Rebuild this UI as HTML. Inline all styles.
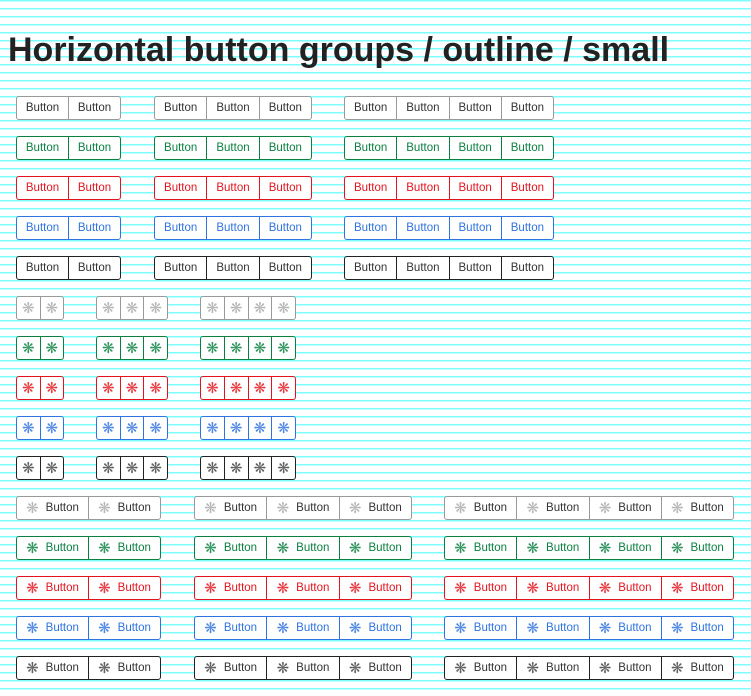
<!DOCTYPE html>
<html><head><meta charset="utf-8"><style>
body{margin:0;width:751px;height:696px;overflow:hidden;background:#fff repeating-linear-gradient(to bottom,#7ffcfc 0,#7ffcfc 1.5px,#fff 1.5px,#fff 8px);font-family:"Liberation Sans",sans-serif;position:relative}
h1{position:absolute;left:8px;top:31px;margin:0;font-size:34px;font-weight:bold;color:#222;white-space:nowrap}
.g{position:absolute;height:24px;box-sizing:border-box;border:1px solid;border-radius:3px;background:#fff;display:flex;overflow:hidden}
.g span{flex:1;display:flex;align-items:center;justify-content:center;font-size:11.5px;border-left:1px solid;white-space:nowrap}
.g span:first-child{border-left:none}
.g i{font-style:normal;font-size:15px;margin-right:7px;opacity:.85}
.g.io i{margin:0}
.gr{border-color:#999;color:#333}.gr span{border-color:#999}.gr i{color:#aaa}
.gn{border-color:#0b8040;color:#0b8040}.gn span{border-color:#0b8040}
.rd{border-color:#e4141e;color:#e4141e}.rd span{border-color:#e4141e}
.bl{border-color:#2f73e0;color:#2f73e0}.bl span{border-color:#2f73e0}
.bk{border-color:#222;color:#333}.bk span{border-color:#222}.bk i{color:#444}
</style></head><body>
<h1>Horizontal button groups / outline / small</h1>

<div class="g gr" style="left:16px;top:96px;width:105px"><span>Button</span><span>Button</span></div>
<div class="g gr" style="left:154px;top:96px;width:158px"><span>Button</span><span>Button</span><span>Button</span></div>
<div class="g gr" style="left:344px;top:96px;width:210px"><span>Button</span><span>Button</span><span>Button</span><span>Button</span></div>
<div class="g gn" style="left:16px;top:136px;width:105px"><span>Button</span><span>Button</span></div>
<div class="g gn" style="left:154px;top:136px;width:158px"><span>Button</span><span>Button</span><span>Button</span></div>
<div class="g gn" style="left:344px;top:136px;width:210px"><span>Button</span><span>Button</span><span>Button</span><span>Button</span></div>
<div class="g rd" style="left:16px;top:176px;width:105px"><span>Button</span><span>Button</span></div>
<div class="g rd" style="left:154px;top:176px;width:158px"><span>Button</span><span>Button</span><span>Button</span></div>
<div class="g rd" style="left:344px;top:176px;width:210px"><span>Button</span><span>Button</span><span>Button</span><span>Button</span></div>
<div class="g bl" style="left:16px;top:216px;width:105px"><span>Button</span><span>Button</span></div>
<div class="g bl" style="left:154px;top:216px;width:158px"><span>Button</span><span>Button</span><span>Button</span></div>
<div class="g bl" style="left:344px;top:216px;width:210px"><span>Button</span><span>Button</span><span>Button</span><span>Button</span></div>
<div class="g bk" style="left:16px;top:256px;width:105px"><span>Button</span><span>Button</span></div>
<div class="g bk" style="left:154px;top:256px;width:158px"><span>Button</span><span>Button</span><span>Button</span></div>
<div class="g bk" style="left:344px;top:256px;width:210px"><span>Button</span><span>Button</span><span>Button</span><span>Button</span></div>

<div class="g io gr" style="left:16px;top:296px;width:48px"><span><i>❋</i></span><span><i>❋</i></span></div>
<div class="g io gr" style="left:96px;top:296px;width:72px"><span><i>❋</i></span><span><i>❋</i></span><span><i>❋</i></span></div>
<div class="g io gr" style="left:200px;top:296px;width:96px"><span><i>❋</i></span><span><i>❋</i></span><span><i>❋</i></span><span><i>❋</i></span></div>
<div class="g io gn" style="left:16px;top:336px;width:48px"><span><i>❋</i></span><span><i>❋</i></span></div>
<div class="g io gn" style="left:96px;top:336px;width:72px"><span><i>❋</i></span><span><i>❋</i></span><span><i>❋</i></span></div>
<div class="g io gn" style="left:200px;top:336px;width:96px"><span><i>❋</i></span><span><i>❋</i></span><span><i>❋</i></span><span><i>❋</i></span></div>
<div class="g io rd" style="left:16px;top:376px;width:48px"><span><i>❋</i></span><span><i>❋</i></span></div>
<div class="g io rd" style="left:96px;top:376px;width:72px"><span><i>❋</i></span><span><i>❋</i></span><span><i>❋</i></span></div>
<div class="g io rd" style="left:200px;top:376px;width:96px"><span><i>❋</i></span><span><i>❋</i></span><span><i>❋</i></span><span><i>❋</i></span></div>
<div class="g io bl" style="left:16px;top:416px;width:48px"><span><i>❋</i></span><span><i>❋</i></span></div>
<div class="g io bl" style="left:96px;top:416px;width:72px"><span><i>❋</i></span><span><i>❋</i></span><span><i>❋</i></span></div>
<div class="g io bl" style="left:200px;top:416px;width:96px"><span><i>❋</i></span><span><i>❋</i></span><span><i>❋</i></span><span><i>❋</i></span></div>
<div class="g io bk" style="left:16px;top:456px;width:48px"><span><i>❋</i></span><span><i>❋</i></span></div>
<div class="g io bk" style="left:96px;top:456px;width:72px"><span><i>❋</i></span><span><i>❋</i></span><span><i>❋</i></span></div>
<div class="g io bk" style="left:200px;top:456px;width:96px"><span><i>❋</i></span><span><i>❋</i></span><span><i>❋</i></span><span><i>❋</i></span></div>

<div class="g gr" style="left:16px;top:496px;width:145px"><span><i>❋</i>Button</span><span><i>❋</i>Button</span></div>
<div class="g gr" style="left:194px;top:496px;width:218px"><span><i>❋</i>Button</span><span><i>❋</i>Button</span><span><i>❋</i>Button</span></div>
<div class="g gr" style="left:444px;top:496px;width:290px"><span><i>❋</i>Button</span><span><i>❋</i>Button</span><span><i>❋</i>Button</span><span><i>❋</i>Button</span></div>
<div class="g gn" style="left:16px;top:536px;width:145px"><span><i>❋</i>Button</span><span><i>❋</i>Button</span></div>
<div class="g gn" style="left:194px;top:536px;width:218px"><span><i>❋</i>Button</span><span><i>❋</i>Button</span><span><i>❋</i>Button</span></div>
<div class="g gn" style="left:444px;top:536px;width:290px"><span><i>❋</i>Button</span><span><i>❋</i>Button</span><span><i>❋</i>Button</span><span><i>❋</i>Button</span></div>
<div class="g rd" style="left:16px;top:576px;width:145px"><span><i>❋</i>Button</span><span><i>❋</i>Button</span></div>
<div class="g rd" style="left:194px;top:576px;width:218px"><span><i>❋</i>Button</span><span><i>❋</i>Button</span><span><i>❋</i>Button</span></div>
<div class="g rd" style="left:444px;top:576px;width:290px"><span><i>❋</i>Button</span><span><i>❋</i>Button</span><span><i>❋</i>Button</span><span><i>❋</i>Button</span></div>
<div class="g bl" style="left:16px;top:616px;width:145px"><span><i>❋</i>Button</span><span><i>❋</i>Button</span></div>
<div class="g bl" style="left:194px;top:616px;width:218px"><span><i>❋</i>Button</span><span><i>❋</i>Button</span><span><i>❋</i>Button</span></div>
<div class="g bl" style="left:444px;top:616px;width:290px"><span><i>❋</i>Button</span><span><i>❋</i>Button</span><span><i>❋</i>Button</span><span><i>❋</i>Button</span></div>
<div class="g bk" style="left:16px;top:656px;width:145px"><span><i>❋</i>Button</span><span><i>❋</i>Button</span></div>
<div class="g bk" style="left:194px;top:656px;width:218px"><span><i>❋</i>Button</span><span><i>❋</i>Button</span><span><i>❋</i>Button</span></div>
<div class="g bk" style="left:444px;top:656px;width:290px"><span><i>❋</i>Button</span><span><i>❋</i>Button</span><span><i>❋</i>Button</span><span><i>❋</i>Button</span></div>
</body></html>
